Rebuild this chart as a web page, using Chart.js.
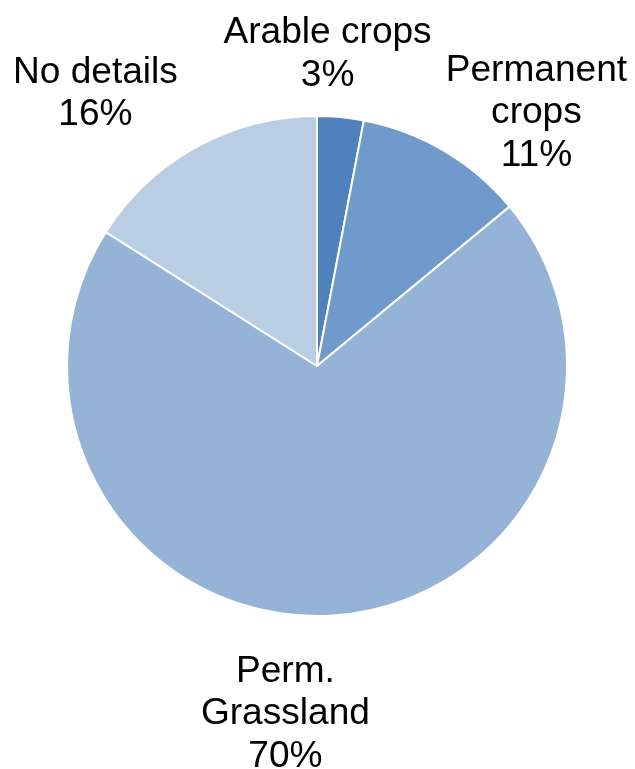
<!DOCTYPE html>
<html>
<head>
<meta charset="utf-8">
<script src="https://cdn.jsdelivr.net/npm/chart.js@4.4.1/dist/chart.umd.min.js"></script>
<style>
  html, body { margin: 0; padding: 0; background: #fff; }
  .wrapper { width: 635px; height: 769px; }
</style>
</head>
<body>
<div class="wrapper"><canvas id="Chart" width="635" height="769"></canvas></div>
<script>
const categories = ["Arable crops", "Permanent crops", "Perm. Grassland", "No details"];
const shares = [3, 11, 70, 16];
// how each label is broken over lines (last line is the percent)
const labelLines = [["Arable crops"], ["Permanent", "crops"], ["Perm.", "Grassland"], ["No details"]];
const sliceColors = ["#4f81bd", "#7099cc", "#95b3d7", "#b9cde5"];

// fine shift of each label block away from the slice middle, px
const labelShift = [[-20, 9], [54, 24], [-52, 21], [-65, 10]];

const outsideLabels = {
  id: 'outsideLabels',
  afterDraw(chart) {
    const ctx = chart.ctx;
    const arcs = chart.getDatasetMeta(0).data;
    const fontSize = 36, lineH = 42.5, stretch = 1.03;
    ctx.save();
    ctx.font = fontSize + 'px "Liberation Sans", Arial, sans-serif';
    ctx.fillStyle = '#000';
    ctx.textAlign = 'center';
    ctx.textBaseline = 'alphabetic';
    arcs.forEach(function(arc, i) {
      const p = arc.getProps(['x', 'y', 'startAngle', 'endAngle', 'outerRadius'], true);
      const mid = (p.startAngle + p.endAngle) / 2;
      const r = p.outerRadius * 1.3;
      const cx = p.x + Math.cos(mid) * r + labelShift[i][0];
      const cy = p.y + Math.sin(mid) * r + labelShift[i][1];
      const lines = labelLines[i].concat([shares[i] + '%']);
      const top = cy - (lines.length - 1) * lineH / 2;
      lines.forEach(function(t, k) {
        // center of cap height sits on the line position
        ctx.save();
        ctx.translate(cx, top + k * lineH + fontSize * 0.358);
        ctx.scale(stretch, 1);
        ctx.fillText(t, 0, 0);
        ctx.restore();
      });
    });
    ctx.restore();
  }
};

new Chart(document.getElementById('Chart'), {
  type: 'pie',
  data: {
    labels: categories,
    datasets: [{
      data: shares,
      backgroundColor: sliceColors,
      borderColor: '#ffffff',
      borderWidth: 2
    }]
  },
  options: {
    responsive: false,
    animation: false,
    layout: { padding: { left: 66, right: 67, top: 115, bottom: 152 } },
    plugins: {
      legend: { display: false },
      tooltip: { enabled: false }
    }
  },
  plugins: [outsideLabels]
});
</script>
</body>
</html>
